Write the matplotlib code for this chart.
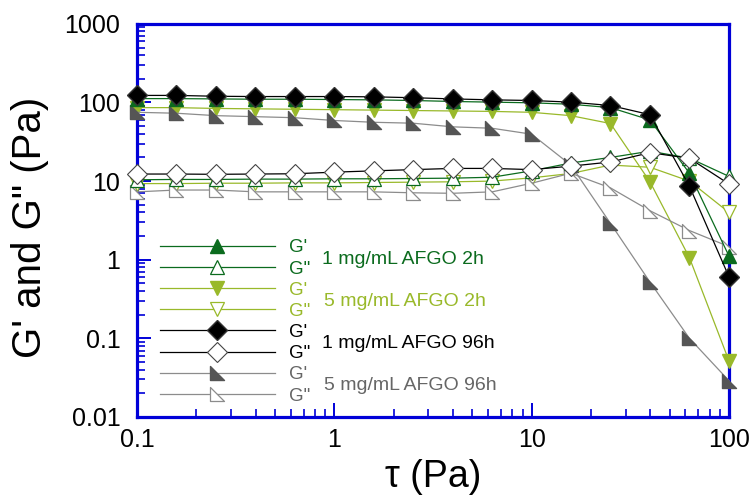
import matplotlib
matplotlib.use("Agg")
import matplotlib.pyplot as plt
from matplotlib.path import Path
from matplotlib.ticker import LogLocator, FixedLocator, NullFormatter

plt.rcParams['font.family'] = ['Liberation Sans', 'DejaVu Sans']

# Shear stress sweep (Pa)
stress = [0.1, 0.158, 0.251, 0.398, 0.631, 1.0, 1.58, 2.51, 3.98, 6.31,
          10.0, 15.8, 25.1, 39.8, 63.1, 100.0]

# 1 mg/mL AFGO 2h
g1_2h_storage = [112, 112, 111, 110, 110, 109, 108, 106, 103, 101,
                 99, 95, 86, 60, 12.6, 1.12]
g1_2h_loss = [10.4, 10.5, 10.5, 10.6, 10.6, 10.7, 10.7, 10.8, 10.9, 11.2,
              13.5, 17.0, 20.0, 24.0, 19.6, 11.5]

# 5 mg/mL AFGO 2h
g5_2h_storage = [86, 86, 84, 83, 82, 81, 80, 79, 78, 77,
                 75, 68, 54, 9.8, 1.06, 0.052]
g5_2h_loss = [9.3, 9.3, 9.4, 9.4, 9.5, 9.5, 9.6, 9.7, 9.8, 10.0,
              11.0, 12.5, 16.0, 15.0, 10.0, 4.0]

# 1 mg/mL AFGO 96h
g1_96h_storage = [123, 123, 120, 119, 119, 119, 118, 115, 111, 108,
                  106, 101, 91.5, 70, 8.6, 0.61]
g1_96h_loss = [12.3, 12.3, 12.2, 12.3, 12.4, 13.0, 13.5, 14.0, 14.5, 14.5,
               14.0, 15.5, 17.5, 23.0, 19.5, 9.2]

# 5 mg/mL AFGO 96h
g5_96h_storage = [75, 73, 68, 66, 64, 59, 56, 54.5, 49, 47,
                  39.5, 16, 2.9, 0.52, 0.10, 0.029]
g5_96h_loss = [7.3, 7.7, 7.7, 7.3, 7.3, 7.3, 7.3, 7.1, 7.0, 7.3,
               9.4, 12.6, 8.2, 4.2, 2.35, 1.47]

group_labels = ["1 mg/mL AFGO 2h", "5 mg/mL AFGO 2h",
                "1 mg/mL AFGO 96h", "5 mg/mL AFGO 96h"]
modulus_labels = ["G'", 'G"']

dark_green = "#0b6b1e"
lime = "#99b92a"
black = "#000000"
gray_fill = "#555555"
gray_line = "#8c8c8c"
gray_text = "#666666"
axis_blue = "#0000d8"

# lower-left right triangle marker
corner_tri = Path([(-1, 1), (-1, -1), (1, -1), (-1, 1)],
                  [Path.MOVETO, Path.LINETO, Path.LINETO, Path.CLOSEPOLY])

series = [
    (g1_2h_storage, dict(color=dark_green, marker="^", mfc=dark_green, mec=dark_green, ms=10), 5),
    (g1_2h_loss, dict(color=dark_green, marker="^", mfc="white", mec=dark_green, ms=9.5, mew=0.9), 5),
    (g5_2h_storage, dict(color=lime, marker="v", mfc=lime, mec=lime, ms=10), 3),
    (g5_2h_loss, dict(color=lime, marker="v", mfc="white", mec=lime, ms=9.5, mew=0.9), 3),
    (g1_96h_storage, dict(color=black, marker="D", mfc=black, mec="#333333", ms=10.5), 7),
    (g1_96h_loss, dict(color=black, marker="D", mfc="white", mec="#444444", ms=10.5, mew=0.8), 7),
    (g5_96h_storage, dict(color=gray_line, marker=corner_tri, mfc=gray_fill, mec=gray_fill, ms=9.5), 4),
    (g5_96h_loss, dict(color=gray_line, marker=corner_tri, mfc="white", mec=gray_line, ms=9.5, mew=0.9), 4),
]

fig = plt.figure(figsize=(7.53, 4.97), dpi=100)
ax = fig.add_axes([0.182, 0.161, 0.786, 0.791])

handles = []
for values, style, z in series:
    h, = ax.plot(stress, values, lw=0.9, zorder=z, clip_on=False, **style)
    handles.append(h)

ax.set_xscale("log")
ax.set_yscale("log")
ax.set_xlim(0.1, 100)
ax.set_ylim(0.01, 1000)

for side in ax.spines.values():
    side.set_color(axis_blue)
    side.set_linewidth(2.3)
    side.set_zorder(2)

ax.xaxis.set_major_locator(FixedLocator([0.1, 1, 10, 100]))
ax.yaxis.set_major_locator(FixedLocator([0.01, 0.1, 1, 10, 100, 1000]))
ax.xaxis.set_minor_locator(LogLocator(base=10, subs=range(2, 10)))
ax.yaxis.set_minor_locator(LogLocator(base=10, subs=range(2, 10)))
ax.xaxis.set_minor_formatter(NullFormatter())
ax.yaxis.set_minor_formatter(NullFormatter())
ax.set_xticklabels(["0.1", "1", "10", "100"])
ax.set_yticklabels(["0.01", "0.1", "1", "10", "100", "1000"])

ax.tick_params(which="both", direction="in", color=axis_blue, top=False, right=False,
               labelsize=18)
ax.tick_params(which="major", length=10, width=1.4)
ax.tick_params(which="minor", length=6, width=1.2)
ax.tick_params(axis="y", pad=12)
ax.tick_params(axis="x", pad=8)

ax.set_xlabel("\u03c4 (Pa)", fontsize=27)
ax.set_ylabel('G\' and G" (Pa)', fontsize=29)
ax.xaxis.set_label_coords(0.5, -0.108)
ax.yaxis.set_label_coords(-0.148, 0.483)

text_colors = [dark_green, dark_green, lime, lime, black, black, gray_text, gray_text]
labels = [modulus_labels[i % 2] for i in range(8)]
leg = ax.legend(handles, labels, loc="upper left", bbox_to_anchor=(0.039, 0.452),
                frameon=False, fontsize=13.5, handlelength=6.1, handletextpad=0.75,
                labelspacing=0.215, borderpad=0, borderaxespad=0, labelcolor=text_colors)
leg.set_zorder(10)

group_colors = [dark_green, lime, black, gray_text]
group_pos = [(0.3125, 0.400), (0.316, 0.293), (0.3125, 0.186), (0.316, 0.080)]
for text, color, (gx, gy) in zip(group_labels, group_colors, group_pos):
    ax.text(gx, gy, text, transform=ax.transAxes, color=color, fontsize=14,
            va="center", ha="left", zorder=10)

fig.savefig("out.png", dpi=100)
